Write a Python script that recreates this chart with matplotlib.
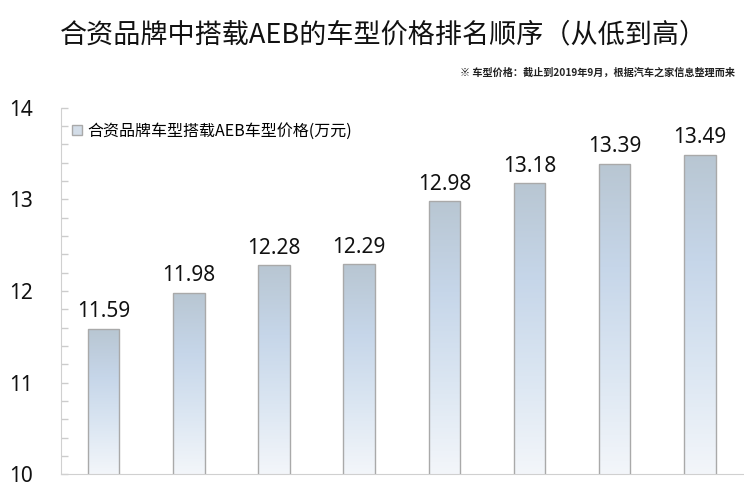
import numpy as np
import matplotlib.pyplot as plt
from matplotlib.colors import LinearSegmentedColormap
from matplotlib.patches import Rectangle
from matplotlib.ticker import MultipleLocator

plt.rcParams['font.family'] = ['Noto Sans CJK SC', 'DejaVu Sans']

# data
prices = [11.59, 11.98, 12.28, 12.29, 12.98, 13.18, 13.39, 13.49]
series_name = '合资品牌车型搭载AEB车型价格(万元)'
title = '合资品牌中搭载AEB的车型价格排名顺序（从低到高）'
note = '※ 车型价格：截止到2019年9月，根据汽车之家信息整理而来'

grad = LinearSegmentedColormap.from_list(
    'bar', ['#f3f6fa', '#dbe6f2', '#c6d6e9', '#b8c6d2'])

fig = plt.figure(figsize=(7.44, 4.9), dpi=100)
ax = fig.add_axes([0.082, 0.032, 0.916, 0.748])

x = np.arange(len(prices))
bars = ax.bar(x, prices, width=0.37, bottom=0, color='none',
              edgecolor='#a9a9a9', linewidth=1.0, zorder=3)

ax.set_xlim(-0.5, len(prices) - 0.5)
ax.set_ylim(10, 14)

# gradient fill clipped to each bar
gimg = np.linspace(0, 1, 256).reshape(-1, 1)
for b, v in zip(bars, prices):
    x0 = b.get_x()
    w = b.get_width()
    im = ax.imshow(gimg, cmap=grad, origin='lower', aspect='auto',
                   extent=(x0, x0 + w, 10, v), zorder=2)
    im.set_clip_path(b)
    ax.text(b.get_x() + w / 2, v + 0.07, f'{v:.2f}', ha='center', va='bottom',
            fontsize=15, color='#111111', family=['Noto Sans', 'DejaVu Sans'])

ax.set_xticks([])
ax.yaxis.set_major_locator(MultipleLocator(1))
ax.yaxis.set_minor_locator(MultipleLocator(0.2))
ax.tick_params(axis='y', which='both', direction='in', colors='#cccccc',
               length=5, width=1, labelcolor='#111111', labelsize=15, pad=20)
for t in ax.get_yticklabels():
    t.set_family(['Noto Sans', 'DejaVu Sans'])
for s in ['top', 'right']:
    ax.spines[s].set_visible(False)
ax.spines['left'].set_color('#d0d0d0')
ax.spines['bottom'].set_color('#d0d0d0')

# legend
leg_box = Rectangle((0, 0), 1, 1, facecolor='#d3dde8', edgecolor='#a9a9a9', linewidth=1)
ax.legend([leg_box], [series_name], loc='upper left', bbox_to_anchor=(0.0, 0.99),
          frameon=False, fontsize=11.5, handlelength=0.6, handleheight=0.6,
          handletextpad=0.35, borderaxespad=0.3)

fig.text(0.515, 0.928, title, ha='center', va='center', fontsize=19.5, color='#111111')
fig.text(0.988, 0.851, note, ha='right', va='center', fontsize=7.3,
         color='#222222', fontweight='bold')

fig.savefig('out.png', dpi=100)
